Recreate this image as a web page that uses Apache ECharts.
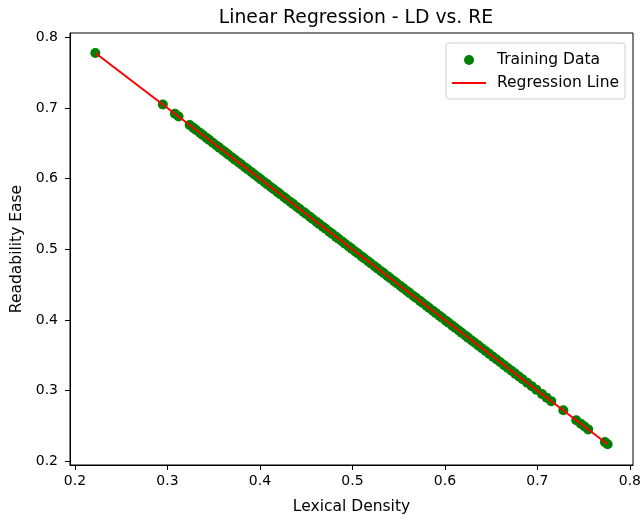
<!DOCTYPE html>
<html>
<head>
<meta charset="utf-8">
<script src="https://cdn.jsdelivr.net/npm/echarts@6/dist/echarts.min.js"></script>
<style>html,body{margin:0;padding:0;background:#fff;}#c{width:644px;height:521px;}</style>
</head>
<body>
<div id="c"></div>
<script>
const ldValues = [0.222, 0.295, 0.308, 0.312, 0.324, 0.328, 0.331, 0.335, 0.338, 0.342, 0.345, 0.349, 0.353, 0.356, 0.360, 0.363, 0.366, 0.370, 0.373, 0.377, 0.380, 0.384, 0.387, 0.391, 0.394, 0.398, 0.401, 0.405, 0.408, 0.412, 0.415, 0.419, 0.422, 0.426, 0.429, 0.433, 0.436, 0.440, 0.443, 0.447, 0.450, 0.454, 0.457, 0.461, 0.464, 0.468, 0.471, 0.475, 0.478, 0.482, 0.485, 0.489, 0.492, 0.496, 0.499, 0.503, 0.506, 0.510, 0.513, 0.517, 0.520, 0.524, 0.527, 0.531, 0.534, 0.538, 0.541, 0.545, 0.548, 0.552, 0.555, 0.559, 0.562, 0.566, 0.569, 0.573, 0.576, 0.580, 0.583, 0.587, 0.590, 0.594, 0.597, 0.601, 0.604, 0.608, 0.611, 0.615, 0.618, 0.622, 0.625, 0.629, 0.632, 0.636, 0.640, 0.644, 0.648, 0.652, 0.656, 0.660, 0.664, 0.668, 0.672, 0.676, 0.680, 0.684, 0.689, 0.694, 0.699, 0.705, 0.710, 0.715, 0.728, 0.742, 0.747, 0.751, 0.755, 0.773, 0.776];
const reValues = [0.778, 0.705, 0.692, 0.688, 0.676, 0.672, 0.669, 0.665, 0.662, 0.658, 0.655, 0.651, 0.647, 0.644, 0.640, 0.637, 0.634, 0.630, 0.627, 0.623, 0.620, 0.616, 0.613, 0.609, 0.606, 0.602, 0.599, 0.595, 0.592, 0.588, 0.585, 0.581, 0.578, 0.574, 0.571, 0.567, 0.564, 0.560, 0.557, 0.553, 0.550, 0.546, 0.543, 0.539, 0.536, 0.532, 0.529, 0.525, 0.522, 0.518, 0.515, 0.511, 0.508, 0.504, 0.501, 0.497, 0.494, 0.490, 0.487, 0.483, 0.480, 0.476, 0.473, 0.469, 0.466, 0.462, 0.459, 0.455, 0.452, 0.448, 0.445, 0.441, 0.438, 0.434, 0.431, 0.427, 0.424, 0.420, 0.417, 0.413, 0.410, 0.406, 0.403, 0.399, 0.396, 0.392, 0.389, 0.385, 0.382, 0.378, 0.375, 0.371, 0.368, 0.364, 0.360, 0.356, 0.352, 0.348, 0.344, 0.340, 0.336, 0.332, 0.328, 0.324, 0.320, 0.316, 0.311, 0.306, 0.301, 0.295, 0.290, 0.285, 0.272, 0.258, 0.253, 0.249, 0.245, 0.227, 0.224];
const lineX = [0.222, 0.776];
const lineY = [0.778, 0.224];
const xTicks = [0.2, 0.3, 0.4, 0.5, 0.6, 0.7, 0.8];
const yTicks = [0.2, 0.3, 0.4, 0.5, 0.6, 0.7, 0.8];

const font = 'DejaVu Sans';
const chart = echarts.init(document.getElementById('c'), null, {renderer: 'canvas'});
chart.setOption({
  animation: false,
  backgroundColor: '#fff',
  title: {
    text: 'Linear Regression - LD vs. RE',
    left: 351, top: 4, textAlign: 'center',
    textStyle: {fontFamily: font, fontSize: 18.8, fontWeight: 'normal', color: '#000'}
  },
  legend: {
    orient: 'vertical', right: 19, top: 43,
    itemWidth: 34, itemHeight: 10, itemGap: 7,
    padding: [9, 6, 8, 6],
    borderColor: '#d0d0d0', borderWidth: 1, borderRadius: 3,
    backgroundColor: '#fff',
    textStyle: {fontFamily: font, fontSize: 15.5, lineHeight: 15, color: '#000', padding: [0, 0, 0, 6]},
    data: [
      {name: 'Training Data', icon: 'circle'},
      {name: 'Regression Line', icon: 'path://M0,0L34,0L34,2L0,2Z'}
    ]
  },
  grid: {left: 70, right: 9, top: 33, bottom: 56, show: true, borderColor: '#000', borderWidth: 1, containLabel: false},
  xAxis: {
    type: 'value', min: 0.1946, max: 0.8034,
    name: 'Lexical Density', nameLocation: 'middle', nameGap: 34,
    nameTextStyle: {fontFamily: font, fontSize: 15.5, color: '#000'},
    axisLine: {show: true, lineStyle: {color: '#000'}},
    axisTick: {show: true, length: 5, lineStyle: {color: '#000'}, customValues: xTicks},
    axisLabel: {fontFamily: font, fontSize: 14, color: '#000', margin: 9, customValues: xTicks,
      formatter: v => v.toFixed(1)},
    splitLine: {show: false}
  },
  yAxis: {
    type: 'value', min: 0.1946, max: 0.8063,
    name: 'Readability Ease', nameLocation: 'middle', nameGap: 42, nameRotate: 90,
    nameTextStyle: {fontFamily: font, fontSize: 15.5, color: '#000'},
    axisLine: {show: true, lineStyle: {color: '#000'}},
    axisTick: {show: true, length: 5, lineStyle: {color: '#000'}, customValues: yTicks},
    axisLabel: {fontFamily: font, fontSize: 14, color: '#000', margin: 12, customValues: yTicks,
      formatter: v => v.toFixed(1)},
    splitLine: {show: false}
  },
  series: [
    {
      name: 'Training Data', type: 'scatter', symbol: 'circle', symbolSize: 10,
      itemStyle: {color: '#008000', opacity: 1},
      data: ldValues.map((x, i) => [x, reValues[i]]),
      z: 2
    },
    {
      name: 'Regression Line', type: 'line', symbol: 'none', showSymbol: false,
      lineStyle: {color: '#ff0000', width: 2},
      itemStyle: {color: '#ff0000'},
      data: lineX.map((x, i) => [x, lineY[i]]),
      z: 3
    }
  ]
});
</script>
</body>
</html>
